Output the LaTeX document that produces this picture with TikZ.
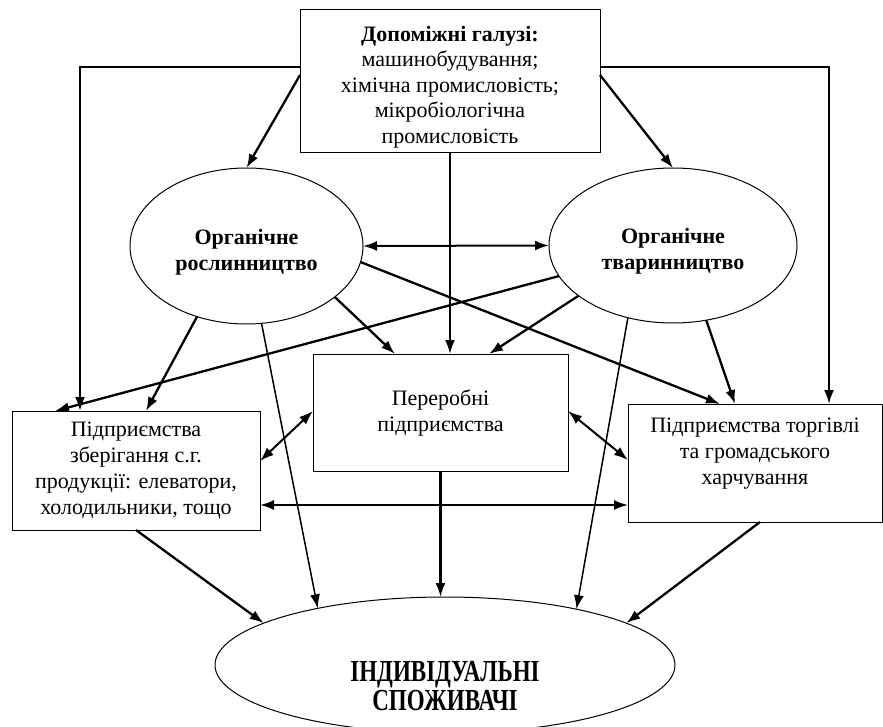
\documentclass[tikz,border=0pt]{standalone}
\usepackage{fontspec}
\setmainfont{Liberation Serif}
\usetikzlibrary{shapes.geometric,arrows.meta}
\tikzstyle{every node}=[inner sep=0pt,outer sep=0pt,align=center,font=\fontsize{22}{26}\selectfont]
\tikzstyle{blok}=[draw,line width=1pt,rectangle]
\tikzstyle{oval}=[draw,line width=1pt,ellipse,font=\fontsize{22}{26}\selectfont\bfseries]
\tikzstyle{strilka}=[line width=2.3pt,-{Latex[length=14pt,width=10pt]}]
\tikzstyle{tonka}=[line width=1.5pt,-{Latex[length=14pt,width=10pt]}]
\tikzstyle{dvi}=[line width=2pt,{Latex[length=14pt,width=10pt]}-{Latex[length=14pt,width=10pt]}]
\newcommand{\vidstup}[1]{\rule{0pt}{#1}}

\begin{document}
\begin{tikzpicture}[x=1pt,y=-1pt]
    \useasboundingbox (0,0) rectangle (883,727);
    % blocks
    \node[blok,minimum width=300pt,minimum height=143pt,font=\fontsize{22}{25.5}\selectfont] (aux) at (450,81.5)
        {\vidstup{26pt}\textbf{Допоміжні галузі:}\\машинобудування;\\хімічна промисловість;\\мікробіологічна\\промисловість};
    \node[oval,minimum width=233pt,minimum height=156pt] (crop) at (246.5,246) {\vidstup{27pt}Органічне\\рослинництво};
    \node[oval,minimum width=248pt,minimum height=155pt] (live) at (673,245.5) {\vidstup{27pt}Органічне\\тваринництво};
    \node[blok,minimum width=255pt,minimum height=117pt] (proc) at (440.5,412.5) {Переробні\\підприємства};
    \node[blok,minimum width=248pt,minimum height=119pt] (store) at (136,470.5)
        {Підприємства\\зберігання с.г.\\продукції: елеватори,\\холодильники, тощо};
    \node[blok,minimum width=254pt,minimum height=118pt] (trade) at (755,463)
        {\vidstup{24pt}Підприємства торгівлі\\та громадського\\харчування\\\strut};
    \node[oval,minimum width=460pt,minimum height=136pt] (cons) at (445,665) {};
    \node[font=\fontsize{23}{18.5}\selectfont\bfseries,yscale=1.33] (consname) at (445,686)
        {ІНДИВІДУАЛЬНІ\\СПОЖИВАЧІ};

    % from the top block
    \draw[strilka] ([yshift=14.5pt]aux.west) -| ([xshift=68pt]store.north west);
    \draw[strilka] ([yshift=14.5pt]aux.east) -| ([xshift=-53pt]trade.north east);
    \draw[strilka] ([yshift=6.5pt]aux.west) -- (crop.north);
    \draw[strilka] ([yshift=6.5pt]aux.east) -- (live.north);
    \draw[strilka] (aux.south) -- (aux.south |- proc.north);
    \draw[dvi] (crop.east) -- (live.west);

    % from the ovals
    \draw[strilka] (crop.235) -- ([xshift=10pt]store.north);
    \draw[strilka] (crop.-30) -- ([xshift=-45.5pt]proc.north);
    \draw[tonka] (crop.-79) -- (cons.156);
    \draw[strilka] (crop.-8) -- ([xshift=-35pt]trade.north);
    \draw[strilka] (live.195) -- ([xshift=43pt]store.north west);
    \draw[strilka] (live.208) -- ([xshift=48.5pt]proc.north);
    \draw[tonka] (live.238) -- (cons.23);
    \draw[strilka] (live.-66) -- ([xshift=-20pt]trade.north);

    % between the lower blocks
    \draw[dvi] ([yshift=9.5pt]store.east) -- ([yshift=1.5pt]proc.west);
    \draw[dvi] ([yshift=1.5pt]proc.east) -- ([yshift=3pt]trade.west);
    \draw[dvi] ([yshift=-34.5pt]store.east) -- ([yshift=-34.5pt]store.east -| trade.west);

    % to the consumers
    \draw[strilka] (store.south) -- (cons.167);
    \draw[strilka] ([xshift=5pt]trade.south) -- (cons.13);
    \draw[strilka] (proc.south) -- (proc.south |- cons.north);
\end{tikzpicture}
\end{document}
